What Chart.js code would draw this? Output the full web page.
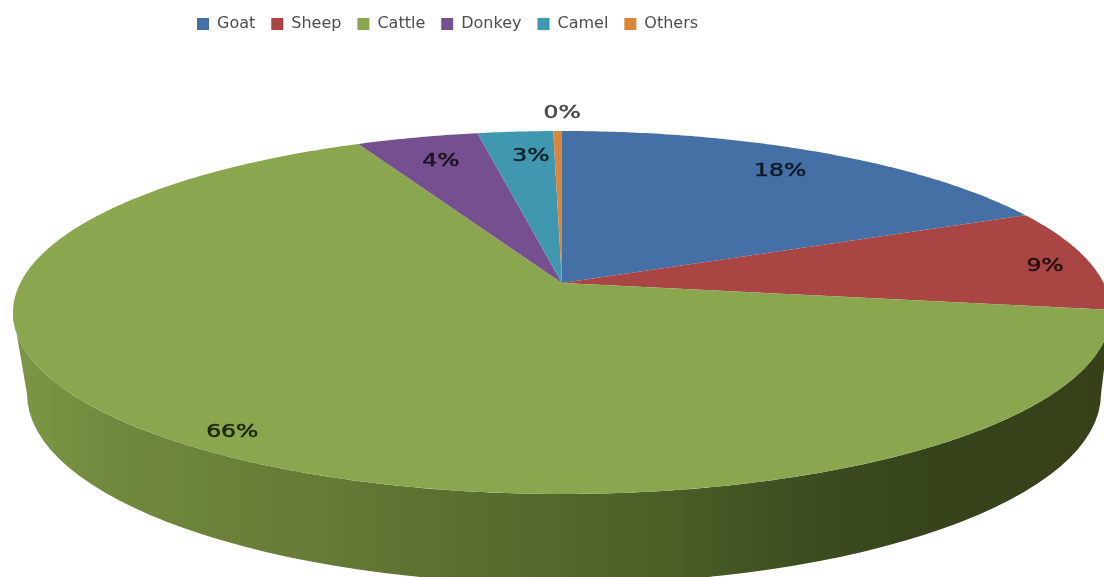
<!DOCTYPE html>
<html>
<head>
<meta charset="utf-8">
<title>Livestock share</title>
<script src="https://cdn.jsdelivr.net/npm/chart.js@4/dist/chart.umd.js"></script>
<style>
  html, body { margin: 0; padding: 0; background: #fff; }
  #wrap { width: 1104px; height: 577px; overflow: hidden; }
</style>
</head>
<body>
<div id="wrap"><canvas id="pie" width="1104" height="577"></canvas></div>
<script>
const categories = ['Goat', 'Sheep', 'Cattle', 'Donkey', 'Camel', 'Others'];
const shares = [18.3, 9.1, 65.6, 4.2, 2.6, 0.3];
const sliceColors = ['#4470a6', '#a94543', '#8aa64e', '#764f90', '#3f97b0', '#d9873f'];

// how far out along each slice its label sits, 1 = on the rim
const labelReach = [0.85, 0.93, 0.91, 0.83, 0.84, 1.14];
const labelNudgeX = [-6, -6, 3, 2, 9, 5];
const labelNudgeY = [2, 5, 3, 2, 4, 1];
const labelInk = ['rgba(0,0,0,.72)', 'rgba(0,0,0,.72)', 'rgba(0,0,0,.72)', 'rgba(0,0,0,.72)', 'rgba(0,0,0,.72)', '#4a4a4a'];

// tilted disc seen in perspective: the hub sits above the middle of the rim
const tilt = { x: 562, y: 283, a: 541.7, b: 176.7, p: 0.1625 };
// lower edge of the side wall
const base = { x: 564, y: 394, rx: 537, ry: 190 };

function project(angle, reach) {
  const u = Math.cos(angle) * reach;
  const v = Math.sin(angle) * reach;
  const w = 1 - tilt.p * v;
  return { x: tilt.x + tilt.a * u / w, y: tilt.y + tilt.b * v / w };
}

// Pie slice drawn on the tilted disc, angles still come from the controller
class TiltedArc extends Chart.ArcElement {
  static id = 'tiltedArc';
  draw(ctx) {
    const { startAngle, endAngle } = this;
    const steps = Math.max(2, Math.ceil((endAngle - startAngle) / 0.01));
    ctx.save();
    ctx.fillStyle = this.options.backgroundColor;
    ctx.beginPath();
    ctx.moveTo(tilt.x, tilt.y);
    for (let i = 0; i <= steps; i++) {
      const p = project(startAngle + (endAngle - startAngle) * i / steps, 1);
      ctx.lineTo(p.x, p.y);
    }
    ctx.closePath();
    ctx.fill();
    ctx.restore();
  }
}
Chart.register(TiltedArc);
Chart.defaults.datasets.pie.dataElementType = 'tiltedArc';

const sideWall = {
  id: 'sideWall',
  beforeDatasetsDraw(chart) {
    const ctx = chart.ctx;
    const side = Math.asin(tilt.p);
    const grad = ctx.createLinearGradient(0, 0, chart.width, 0);
    grad.addColorStop(0, '#7d9a46');
    grad.addColorStop(0.1, '#71893d');
    grad.addColorStop(0.3, '#657a36');
    grad.addColorStop(0.45, '#576c2d');
    grad.addColorStop(0.6, '#4b5f27');
    grad.addColorStop(0.72, '#3e4e20');
    grad.addColorStop(0.85, '#36431b');
    grad.addColorStop(1, '#364119');
    ctx.save();
    ctx.fillStyle = grad;
    ctx.beginPath();
    ctx.ellipse(base.x, base.y, base.rx, base.ry, 0, 0, Math.PI);
    for (let i = 0; i <= 300; i++) {
      const a = (Math.PI - side) + (2 * side - Math.PI) * i / 300;
      const p = project(a, 1);
      ctx.lineTo(p.x, p.y);
    }
    ctx.closePath();
    ctx.fill();
    ctx.restore();
  }
};

const percentLabels = {
  id: 'percentLabels',
  afterDatasetsDraw(chart) {
    const ctx = chart.ctx;
    const total = shares.reduce((s, n) => s + n, 0);
    chart.getDatasetMeta(0).data.forEach((arc, i) => {
      const p = project((arc.startAngle + arc.endAngle) / 2, labelReach[i]);
      const text = Math.round(shares[i] / total * 100) + '%';
      ctx.save();
      ctx.translate(p.x + labelNudgeX[i], p.y + labelNudgeY[i]);
      ctx.scale(1.38, 1);  // the labels run wide
      ctx.font = '17px "DejaVu Sans"';
      ctx.fillStyle = labelInk[i];
      ctx.strokeStyle = labelInk[i];
      ctx.lineWidth = 0.5;
      ctx.textAlign = 'center';
      ctx.textBaseline = 'middle';
      ctx.fillText(text, 0, 0);
      ctx.strokeText(text, 0, 0);
      ctx.restore();
    });
  }
};

new Chart(document.getElementById('pie').getContext('2d'), {
  type: 'pie',
  data: { labels: categories, datasets: [{ data: shares, backgroundColor: sliceColors, borderWidth: 0 }] },
  options: {
    responsive: false,
    animation: false,
    events: [],
    layout: { padding: { left: 181 } },
    plugins: {
      tooltip: { enabled: false },
      legend: {
        position: 'top',
        align: 'start',
        labels: {
          boxWidth: 12,
          boxHeight: 12,
          padding: 16,
          color: '#4d4d4d',
          font: { family: '"DejaVu Sans"', size: 16 }
        }
      }
    }
  },
  plugins: [sideWall, percentLabels]
});
</script>
</body>
</html>
